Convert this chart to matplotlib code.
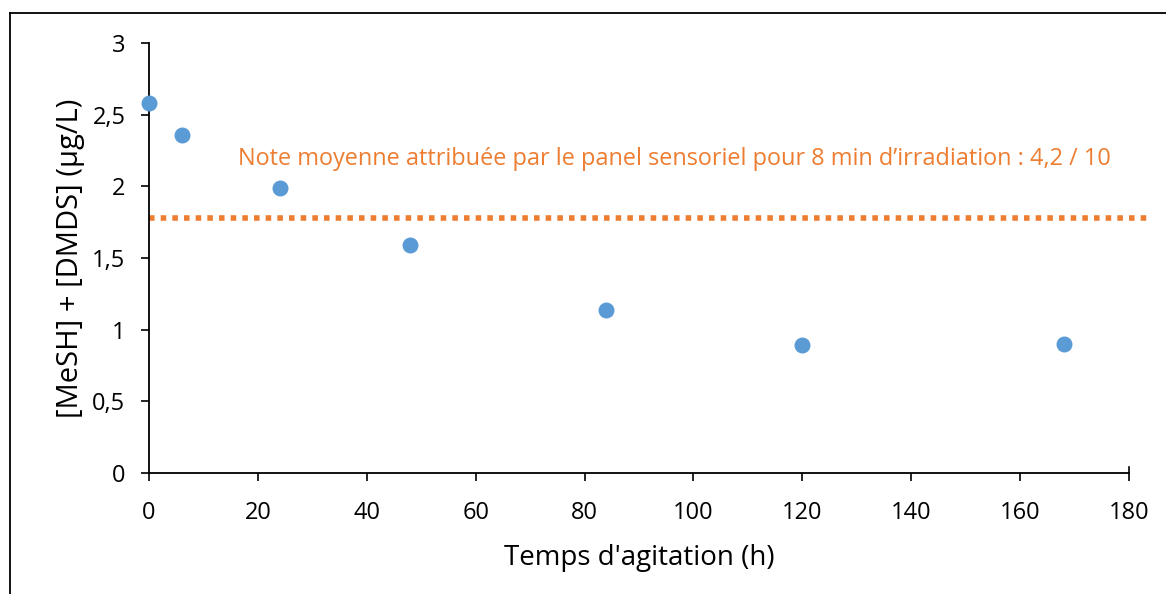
import matplotlib.pyplot as plt
from matplotlib.lines import Line2D
from matplotlib.ticker import FuncFormatter

plt.rcParams['font.family'] = ['Open Sans', 'DejaVu Sans']

# données
temps = [0, 6, 24, 48, 84, 120, 168]
concentration = [2.58, 2.36, 1.99, 1.59, 1.14, 0.89, 0.90]
seuil = 1.78
seuil_fin = 184
note_txt = "Note moyenne attribuée par le panel sensoriel pour 8 min d’irradiation : 4,2 / 10"

bleu = '#5B9BD5'
orange = '#ED7D31'

fig = plt.figure(figsize=(11.66, 5.94), dpi=100)
ax = fig.add_axes([149 / 1166, 1 - 473 / 594, 980 / 1166, 430 / 594])

ax.scatter(temps, concentration, s=110, color=bleu, zorder=3, clip_on=False)
ax.plot([0, seuil_fin], [seuil, seuil], color=orange, linewidth=4,
        linestyle=(0, (1, 1.1)), clip_on=False)
ax.text(0.536, 2.19, note_txt, color=orange, fontsize=16.9, ha='center', va='center',
        transform=ax.get_yaxis_transform())

ax.set_xlim(0, 180)
ax.set_ylim(0, 3)
ax.set_xticks(range(0, 181, 20))
ax.set_yticks([0, 0.5, 1, 1.5, 2, 2.5, 3])
ax.yaxis.set_major_formatter(FuncFormatter(lambda v, p: f'{v:g}'.replace('.', ',')))
ax.tick_params(direction='out', length=6, width=1.2, labelsize=17, colors='black')
ax.tick_params(axis='y', pad=11)
ax.tick_params(axis='x', pad=14)

for side in ['top', 'right']:
    ax.spines[side].set_visible(False)
for side in ['left', 'bottom']:
    ax.spines[side].set_linewidth(1.3)

# petit tick à droite de l'axe x
ax.plot([180, 180], [0, 0.045], color='black', linewidth=1.2, clip_on=False)

ax.set_xlabel("Temps d'agitation (h)", fontsize=20, labelpad=14)
ax.set_ylabel("[MeSH] + [DMDS] (µg/L)", fontsize=21, labelpad=5)

# cadre de la figure
fig.add_artist(Line2D([10 / 1166, 1], [1 - 13 / 594, 1 - 13 / 594], color='black', linewidth=1.3))
fig.add_artist(Line2D([10 / 1166, 10 / 1166], [0, 1 - 13 / 594], color='black', linewidth=1.3))

fig.savefig('out.png', dpi=100)
